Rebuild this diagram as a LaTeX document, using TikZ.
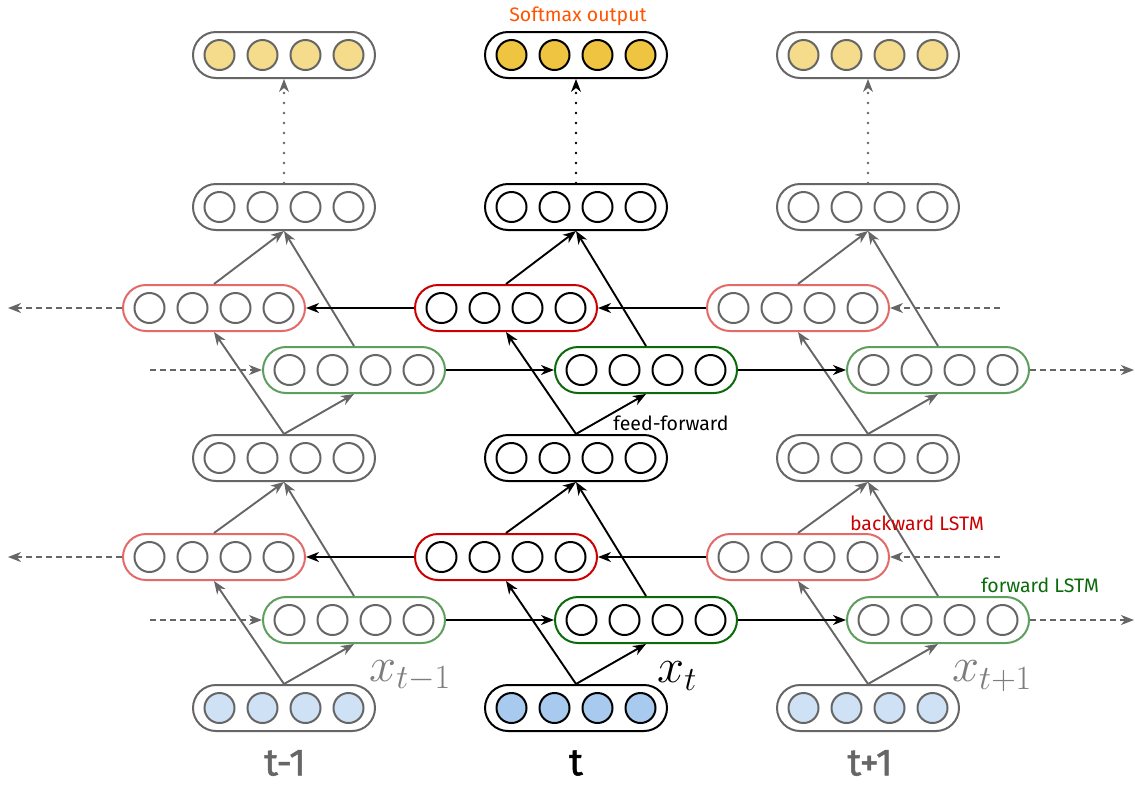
\RequirePackage{fix-cm}
\documentclass[tikz,border=0pt]{standalone}
\usepackage{fontspec}
\setsansfont{Fira Sans}
\newfontfamily\tfont{Fira Sans}[FakeBold=1.3]
\usetikzlibrary{arrows.meta}
\definecolor{sidegray}{HTML}{666666}
\definecolor{sidered}{HTML}{E46A6A}
\definecolor{sidegreen}{HTML}{5E9E5E}
\definecolor{cred}{HTML}{CC0000}
\definecolor{cgreen}{HTML}{0B6B0B}
\definecolor{softc}{HTML}{EFC440}
\definecolor{softs}{HTML}{F4DC8C}
\definecolor{inc}{HTML}{A8CAEE}
\definecolor{ins}{HTML}{CFE2F5}
\definecolor{orangered}{HTML}{FF5500}
\tikzset{
  layerbox/.style={rectangle, rounded corners=23pt, minimum width=182pt, minimum height=46pt, line width=2pt, inner sep=0pt, fill=white},
  unit/.style={circle, minimum size=30pt, line width=2pt, inner sep=0pt},
  arr/.style={line width=1.9pt, -{Stealth[length=13pt,width=10pt,inset=4pt]}},
  darr/.style={arr, dash pattern=on 6pt off 4pt, draw=sidegray},
  dotarr/.style={line width=2.6pt, line cap=round, dash pattern=on 0pt off 10pt, -{Stealth[length=13pt,width=10pt,inset=4pt,line width=0pt]}},
  lbl/.style={font=\sffamily\fontsize{19.5}{23}\selectfont, inner sep=0pt},
  tlbl/.style={font=\tfont\fontsize{38}{44}\selectfont, inner sep=0pt},
  xlbl/.style={font=\fontsize{48.5}{56}\selectfont, inner sep=0pt},
}
% name, x, y, box colour, circle colour, circle fill
\newcommand\mylayer[6]{%
  \node[layerbox, draw=#4] (#1) at (#2,#3) {};
  \foreach \i/\dx in {1/-64.5,2/-21.5,3/21.5,4/64.5}
    \node[unit, draw=#5, fill=#6] (#1-\i) at ([xshift=\dx pt]#1.center) {};
}
% prefix, x, box col, red col, green col, soft fill, input fill, line col
\newcommand\mycolumn[8]{%
  \mylayer{#1s}{#2}{55}{#3}{#3}{#6}
  \mylayer{#1h2}{#2}{207}{#3}{#3}{white}
  \mylayer{#1b2}{#2-70}{308}{#4}{#3}{white}
  \mylayer{#1f2}{#2+70}{370}{#5}{#3}{white}
  \mylayer{#1h1}{#2}{458}{#3}{#3}{white}
  \mylayer{#1b1}{#2-70}{557}{#4}{#3}{white}
  \mylayer{#1f1}{#2+70}{620}{#5}{#3}{white}
  \mylayer{#1x}{#2}{708}{#3}{#3}{#7}
  \draw[arr, draw=#8] (#1x.north) -- (#1f1.south);
  \draw[arr, draw=#8] (#1x.north) -- (#1b1.south);
  \draw[arr, draw=#8] (#1b1.north) -- (#1h1.south);
  \draw[arr, draw=#8] (#1f1.north) -- (#1h1.south);
  \draw[arr, draw=#8] (#1h1.north) -- (#1f2.south);
  \draw[arr, draw=#8] (#1h1.north) -- (#1b2.south);
  \draw[arr, draw=#8] (#1b2.north) -- (#1h2.south);
  \draw[arr, draw=#8] (#1f2.north) -- (#1h2.south);
  \draw[dotarr, draw=#8] (#1h2.north) -- (#1s.south);
}
\begin{document}
\begin{tikzpicture}[x=1pt,y=-1pt]
\fill[white] (0,0) rectangle (1135,785);
\useasboundingbox (0,0) rectangle (1135,785);

\mycolumn{L}{284}{sidegray}{sidered}{sidegreen}{softs}{ins}{sidegray}
\mycolumn{C}{576}{black}{cred}{cgreen}{softc}{inc}{black}
\mycolumn{R}{868}{sidegray}{sidered}{sidegreen}{softs}{ins}{sidegray}

% recurrent connections
\foreach \k in {1,2}{
  \draw[arr] (Rb\k.west) -- (Cb\k.east);
  \draw[arr] (Cb\k.west) -- (Lb\k.east);
  \draw[arr] (Lf\k.east) -- (Cf\k.west);
  \draw[arr] (Cf\k.east) -- (Rf\k.west);
}
\coordinate (lbend2) at (8,308);
\coordinate (rbstart2) at (1000,308);
\coordinate (lfstart2) at (150,370);
\coordinate (rfend2) at (1134,370);
\coordinate (lbend1) at (8,557);
\coordinate (rbstart1) at (1000,557);
\coordinate (lfstart1) at (150,620);
\coordinate (rfend1) at (1134,620);
\foreach \k in {1,2}{
  \draw[darr] (Lb\k.west) -- (lbend\k);
  \draw[darr] (rbstart\k) -- (Rb\k.east);
  \draw[darr] (lfstart\k) -- (Lf\k.west);
  \draw[darr] (Rf\k.east) -- (rfend\k);
}

% labels
\node[lbl, text=orangered] (softlbl) at (578,16) {Softmax output};
\node[lbl] (fflbl) at (671,423) {feed-forward};
\node[lbl, text=cred] (bwlbl) at (917,523) {backward LSTM};
\node[lbl, text=cgreen] (fwlbl) at (1040,585) {forward LSTM};
\node[xlbl, text=sidegray!85] (xl) at (410,676) {$x_{t-1}$};
\node[xlbl] (xc) at (677,676) {$x_{t}$};
\node[xlbl, text=sidegray!85] (xr) at (992,676) {$x_{t+1}$};
\node[tlbl, text=sidegray] (tl) at (285,763) {t-1};
\node[tlbl] (tc) at (576,763) {t};
\node[tlbl, text=sidegray] (tr) at (870,763) {t+1};
\end{tikzpicture}
\end{document}
